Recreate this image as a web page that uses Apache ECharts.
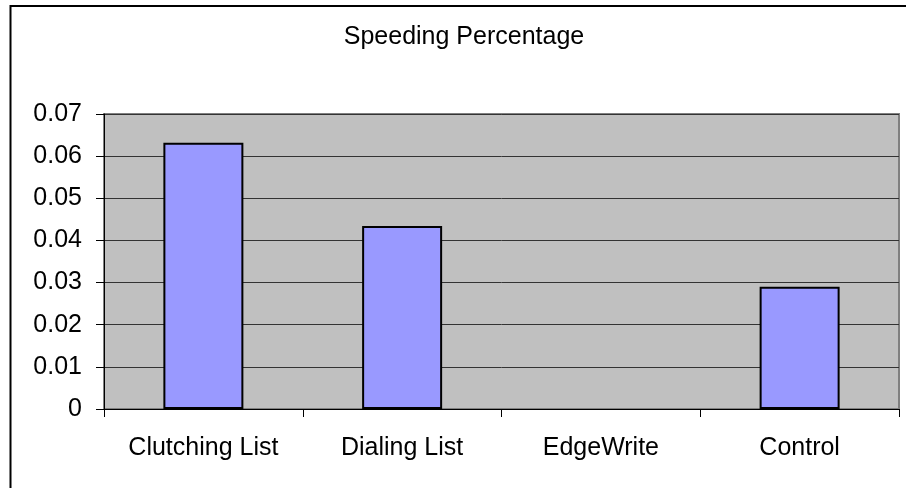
<!DOCTYPE html>
<html>
<head>
<meta charset="utf-8">
<script src="https://cdn.jsdelivr.net/npm/echarts@6/dist/echarts.min.js"></script>
<style>
  html, body { margin: 0; padding: 0; background: #fff; }
  #chart { width: 906px; height: 488px; }
</style>
</head>
<body>
<div id="chart"></div>
<script>
// Speeding percentage per input technique
const chartTitle = 'Speeding Percentage';
const categories = ['Clutching List', 'Dialing List', 'EdgeWrite', 'Control'];
const speeding = [0.0632, 0.0434, 0, 0.029];
const yMin = 0;
const yMax = 0.07;
const yStep = 0.01;

const font = '"Liberation Sans", Arial, sans-serif';
const chart = echarts.init(document.getElementById('chart'), null, { renderer: 'canvas' });

// zero-height bars get no outline, so nothing is drawn for them
const barData = speeding.map(v => ({
  value: v,
  itemStyle: v === 0 ? { borderWidth: 0 } : undefined
}));

chart.setOption({
  backgroundColor: '#ffffff',
  animation: false,
  grid: {
    left: 104, right: 7, top: 114, bottom: 79,
    show: true,
    backgroundColor: '#c0c0c0',
    borderColor: '#808080',
    borderWidth: 2
  },
  graphic: [
    {
      type: 'rect',
      shape: { x: 10.5, y: 6, width: 930, height: 520 },
      style: { fill: null, stroke: '#000', lineWidth: 2 },
      silent: true
    },
    {
      type: 'text',
      x: 464, y: 25,
      style: {
        text: chartTitle,
        fill: '#000',
        font: '25px ' + font,
        textAlign: 'center',
        textVerticalAlign: 'top'
      }
    }
  ],
  xAxis: {
    type: 'category',
    data: categories,
    boundaryGap: true,
    axisLine: { show: true, lineStyle: { color: '#000', width: 1 } },
    axisTick: { show: true, length: 8, alignWithLabel: false, lineStyle: { color: '#000' } },
    axisLabel: { color: '#000', fontSize: 25, fontFamily: font, margin: 27, interval: 0 },
    splitLine: { show: false }
  },
  yAxis: {
    type: 'value',
    min: yMin, max: yMax, interval: yStep,
    axisLine: { show: true, lineStyle: { color: '#000', width: 1 } },
    axisTick: { show: true, length: 8, lineStyle: { color: '#000' } },
    axisLabel: {
      color: '#000', fontSize: 25, fontFamily: font, margin: 22,
      formatter: v => (v === 0 ? '0' : v.toFixed(2))
    },
    splitLine: { show: true, lineStyle: { color: '#333333', width: 1 } }
  },
  series: [{
    type: 'bar',
    data: barData,
    barWidth: 80,
    itemStyle: { color: '#9999ff', borderColor: '#000', borderWidth: 2 }
  }]
});
</script>
</body>
</html>
